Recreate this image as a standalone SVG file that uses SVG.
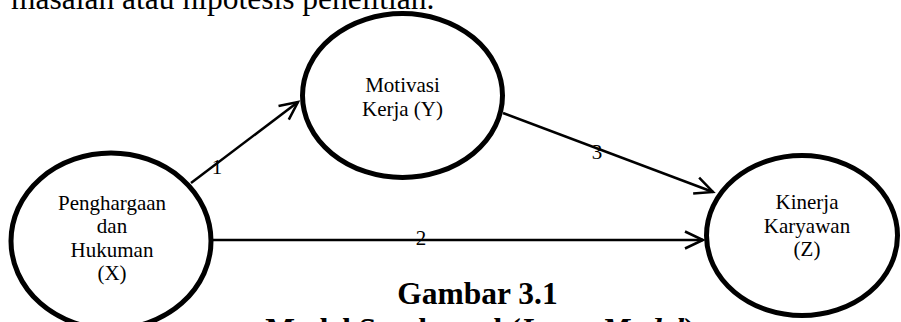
<svg xmlns="http://www.w3.org/2000/svg" width="901" height="322" viewBox="0 0 901 322">
<style>
.node{fill:#fff;stroke:#000;stroke-width:5}
.lbl{font-family:"Liberation Serif","Times New Roman",serif;font-size:21px;fill:#000;text-anchor:middle}
.conn{stroke:#000;stroke-width:2.5;fill:none}
.body{font-family:"Liberation Serif","Times New Roman",serif;font-size:31.5px;fill:#000}
</style>
<defs>
<marker id="arr" markerUnits="userSpaceOnUse" markerWidth="30" markerHeight="30" refX="0" refY="0" orient="auto" overflow="visible">
<path d="M-18,-8.5 L0,0 L-18,8.5" fill="none" stroke="#000" stroke-width="2.5"/>
</marker>
</defs>
<rect width="901" height="322" fill="#fff"/>
<text class="body" x="11" y="9">masalah atau hipotesis penelitian.</text>
<g id="connectors">
<line class="conn" x1="191" y1="183" x2="298" y2="102" marker-end="url(#arr)"/>
<line class="conn" x1="213" y1="240" x2="703" y2="240" marker-end="url(#arr)"/>
<line class="conn" x1="503" y1="113" x2="713" y2="192" marker-end="url(#arr)"/>
<text class="lbl" x="217" y="174">1</text>
<text class="lbl" x="421" y="245">2</text>
<text class="lbl" x="597" y="159">3</text>
</g>
<g id="nodeX">
<ellipse class="node" cx="111" cy="241" rx="100" ry="88"/>
<text class="lbl" x="112" y="210">Penghargaan</text>
<text class="lbl" x="112" y="233">dan</text>
<text class="lbl" x="112" y="257">Hukuman</text>
<text class="lbl" x="112" y="280">(X)</text>
</g>
<g id="nodeY">
<ellipse class="node" cx="402.5" cy="95.5" rx="100" ry="82"/>
<text class="lbl" x="402.5" y="92">Motivasi</text>
<text class="lbl" x="402.5" y="116">Kerja (Y)</text>
</g>
<g id="nodeZ">
<ellipse class="node" cx="802" cy="235.5" rx="95.5" ry="80"/>
<text class="lbl" x="807" y="209">Kinerja</text>
<text class="lbl" x="807" y="233">Karyawan</text>
<text class="lbl" x="807" y="256">(Z)</text>
</g>
<text class="body" x="477.5" y="303.5" font-weight="bold" text-anchor="middle">Gambar 3.1</text>
<text class="body" x="480" y="340" font-weight="bold" text-anchor="middle">Model Struktural (<tspan font-style="italic">Inner Model</tspan>)</text>
</svg>
